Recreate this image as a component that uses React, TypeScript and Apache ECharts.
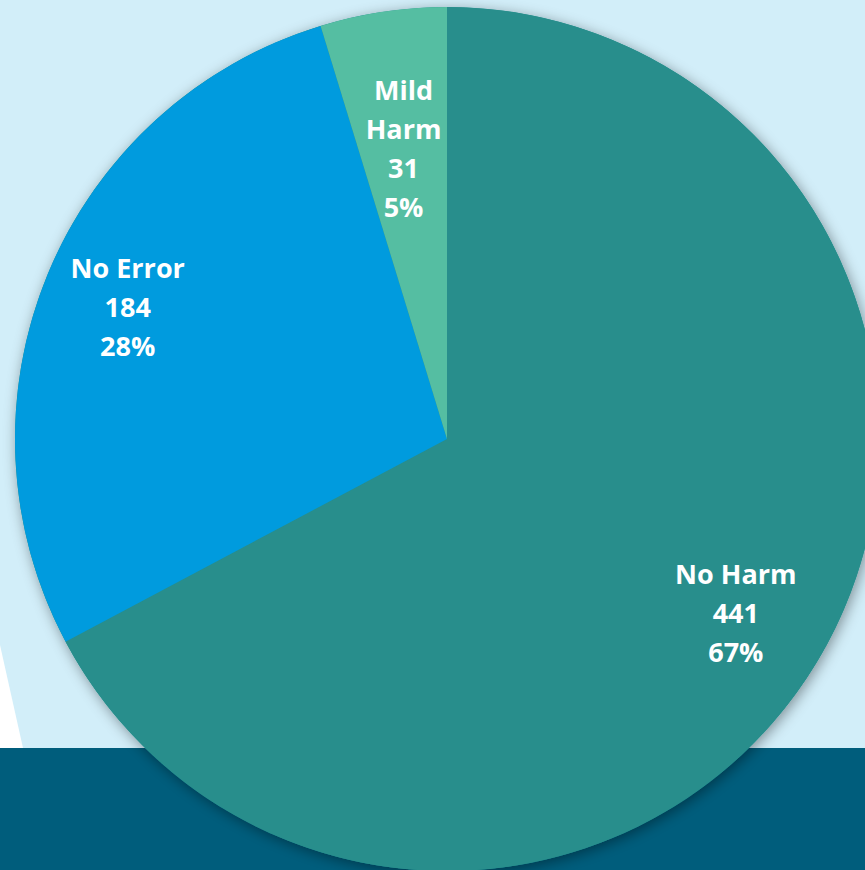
import React, { useEffect, useRef } from "react";
import * as echarts from "echarts";

const categories = ["No Harm", "No Error", "Mild Harm"];
const values = [441, 184, 31];
const percents = ["67%", "28%", "5%"];
const colors = ["#288e8c", "#009bde", "#55bea2"];
const labelRadiusRatio = [0.78, 0.8, 0.68];

export default function App() {
  const ref = useRef<HTMLDivElement>(null);
  useEffect(() => {
    if (!ref.current) return;
    const chart = echarts.init(ref.current, undefined, { renderer: "svg" });
    const cx = 447;
    const cy = 439;
    const R = 432;
    const total = values.reduce((a, b) => a + b, 0);
    const midAngles: number[] = [];
    let acc = 0;
    values.forEach((v) => {
      const start = acc;
      acc += v;
      midAngles.push(((start + acc) / 2 / total) * 2 * Math.PI);
    });
    chart.setOption({
      animation: false,
      backgroundColor: "#d2eef9",
      graphic: [
        {
          type: "polygon",
          z: -10,
          shape: { points: [[0, 645], [23, 748], [0, 748]] },
          style: { fill: "#ffffff" },
          silent: true,
        },
        {
          type: "rect",
          z: -10,
          shape: { x: 0, y: 748, width: 865, height: 122 },
          style: { fill: "#005d7c" },
          silent: true,
        },
      ],
      series: [
        {
          type: "pie",
          silent: true,
          center: [cx, cy],
          radius: R,
          label: { show: false },
          labelLine: { show: false },
          itemStyle: {
            color: colors[0],
            shadowBlur: 14,
            shadowColor: "rgba(0,0,0,0.4)",
            shadowOffsetX: 2,
            shadowOffsetY: 3,
          },
          data: [{ value: 1, name: "bg" }],
          z: 1,
        },
        {
          type: "pie",
          silent: true,
          center: [cx, cy],
          radius: R,
          startAngle: 90,
          clockwise: true,
          z: 2,
          itemStyle: { borderWidth: 0 },
          data: categories.map((c, i) => ({
            name: c,
            value: values[i],
            itemStyle: { color: colors[i] },
          })),
          label: {
            show: true,
            position: "inside",
            color: "#ffffff",
            fontFamily: "Open Sans",
            fontWeight: "bold",
            fontSize: 27,
            lineHeight: 39,
            align: "center",
            verticalAlign: "middle",
            formatter: (p: any) => {
              const name = p.dataIndex === 2 ? "Mild\nHarm" : p.name;
              return `${name}\n${p.value}\n${percents[p.dataIndex]}`;
            },
          },
          labelLine: { show: false },
          labelLayout: (p: any) => {
            const i = p.dataIndex;
            const a = midAngles[i];
            const r = R * labelRadiusRatio[i];
            return { x: cx + r * Math.sin(a), y: cy - r * Math.cos(a), align: "center", verticalAlign: "middle" };
          },
        },
      ],
    });
    return () => chart.dispose();
  }, []);
  return (
    <div
      ref={ref}
      style={{ position: "fixed", left: 0, top: 0, width: 865, height: 870 }}
    />
  );
}
